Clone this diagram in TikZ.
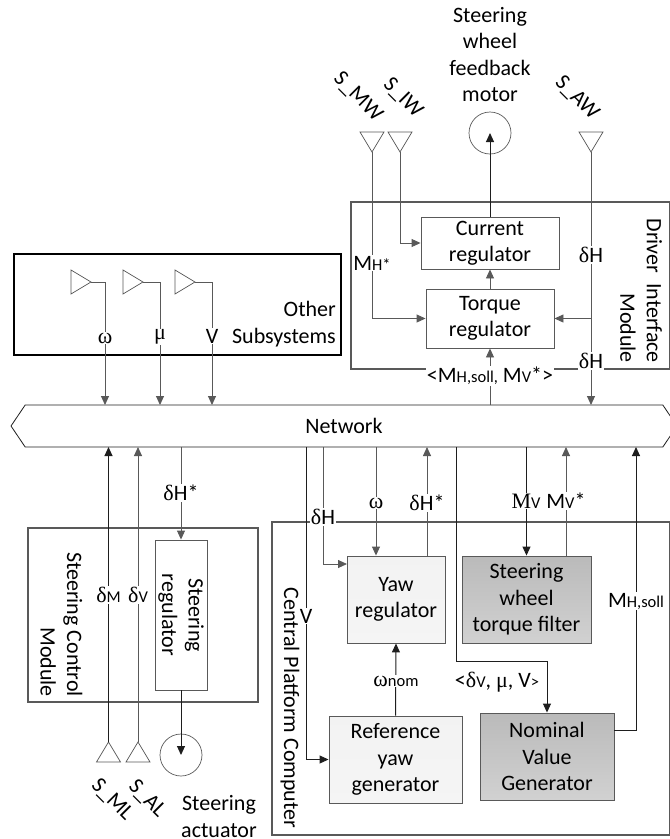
\documentclass[tikz,border=0pt]{standalone}
\usepackage{fontspec}
\setmainfont{Carlito}
\newfontfamily\grkfont{Liberation Serif}
\usetikzlibrary{arrows.meta, shapes.geometric, shapes.symbols}
\definecolor{lnblack}{RGB}{30, 30, 30}
\definecolor{lngray}{RGB}{89, 89, 89}
\newcommand{\gk}[1]{{\grkfont #1}}
\newcommand{\sm}[1]{{\fontsize{16.5}{16.5}\selectfont #1}}
\tikzset{
  sigline/.style={lngray, line width=0.9pt},
  blkline/.style={lnblack, line width=1pt},
  frameline/.style={lngray, line width=1.4pt},
  blockbox/.style={draw=lngray, line width=0.9pt, inner sep=0pt, align=center},
  lightbox/.style={blockbox, top color=black!5, bottom color=black!4},
  darkbox/.style={blockbox, top color=black!27, bottom color=black!18},
  lab/.style={fill=white, inner sep=1pt, align=center},
  plaintxt/.style={inner sep=0pt, align=center},
  sensortri/.style={isosceles triangle, isosceles triangle stretches, draw=lngray, line width=0.7pt,
    minimum height=20pt, minimum width=24pt, inner sep=0pt, outer sep=0pt, anchor=apex},
  motorcirc/.style={circle, draw=lngray, line width=0.7pt, minimum size=42pt, inner sep=0pt}
}
\begin{document}
\begin{tikzpicture}[x=1pt, y=-1pt, >={Stealth[length=9pt, width=8pt, inset=0pt]},
    font=\fontsize{22}{26.5}\selectfont]
  \useasboundingbox (0,0) rectangle (670,839);

  % --- module frames ---
  \draw[frameline] (351,202) rectangle (669.5,369);
  \draw[frameline] (272,522) rectangle (669.5,835);
  \draw[frameline] (28,528) rectangle (258,702);
  \draw[black, line width=1.8pt] (14,254) rectangle (341,355);

  % --- network bus ---
  \node[signal, signal to=west and east, signal pointer angle=112, draw=lnblack, line width=0.8pt,
    minimum width=666pt, minimum height=42pt, inner sep=0pt, outer sep=0pt] (net) at (344,426) {};
  \node[plaintxt] (nettxt) at (344,426) {Network};

  % --- driver interface module ---
  \node[blockbox, minimum width=138pt, minimum height=52pt] (cur) at (490,243) {Current\\regulator};
  \node[blockbox, minimum width=128pt, minimum height=59pt] (tor) at (490,318.5) {Torque\\regulator};
  \node[motorcirc] (mot) at (490,133) {};
  \node[plaintxt] (mottxt) at (490,54.5) {Steering\\wheel\\feedback\\motor};
  \node[sensortri, shape border rotate=-90] (smw) at (372,152) {};
  \node[sensortri, shape border rotate=-90] (siw) at (400,152) {};
  \node[sensortri, shape border rotate=-90] (saw) at (591,152) {};
  \node[plaintxt, rotate=-45] (smwtxt) at (358,97) {S\_MW};
  \node[plaintxt, rotate=-45] (siwtxt) at (403,98) {S\_IW};
  \node[plaintxt, rotate=-45] (sawtxt) at (577,98) {S\_AW};
  \node[plaintxt, rotate=-90, anchor=east, align=right] (dimtxt) at (641,363) {Driver  ~Interface\\Module};

  \draw[blkline, ->] (cur.north) -- (mot.center);
  \draw[sigline, ->] (tor.north) -- (cur.south);
  \draw[sigline, ->] (smw.apex) |- (tor.west);
  \draw[sigline, ->] (siw.apex) |- (cur.west);
  \draw[sigline, ->] (saw.apex) -- (saw.apex |- net.north);
  \draw[sigline, ->] (saw.apex |- tor.east) -- (tor.east);
  \draw[sigline, ->] (net.north -| tor.south) -- (tor.south);
  \node[lab] (lmh) at (372,263) {M\sm{H*}};
  \node[lab] (ldh1) at (591,255) {\gk{δ}H};
  \node[lab] (ldh2) at (591,361) {\gk{δ}H};
  \node[lab] (lsoll) at (490,376) {<M\sm{H,soll,} M\sm{V}*>};

  % --- other subsystems ---
  \node[sensortri] (tom) at (91,282) {};
  \node[sensortri] (tmu) at (143,282) {};
  \node[sensortri] (tvv) at (195,282) {};
  \coordinate (omx1) at (105,338);
  \coordinate (mux1) at (160,337);
  \coordinate (vvx1) at (212,336);
  \node[plaintxt, anchor=east, align=right] (othtxt) at (336,324) {Other\\Subsystems};
  \draw[sigline, ->] (tom.apex) -| (omx1 |- net.north);
  \draw[sigline, ->] (tmu.apex) -| (mux1 |- net.north);
  \draw[sigline, ->] (tvv.apex) -| (vvx1 |- net.north);
  \node[lab] (lom1) at (omx1) {\gk{ω}};
  \node[lab] (lmu1) at (mux1) {\gk{μ}};
  \node[lab] (lvv1) at (vvx1) {V};

  % --- steering control module ---
  \node[blockbox, rotate=-90, minimum width=150pt, minimum height=52pt] (srg) at (181,615) {Steering\\regulator};
  \node[motorcirc] (act) at (181,755) {};
  \node[plaintxt] (acttxt) at (219,816.5) {Steering\\actuator};
  \node[sensortri, shape border rotate=90] (sml) at (108.5,742) {};
  \node[sensortri, shape border rotate=90] (sal) at (138,742) {};
  \node[plaintxt, rotate=-45] (smltxt) at (112,800) {S\_ML};
  \node[plaintxt, rotate=-45] (saltxt) at (147,799) {S\_AL};
  \node[plaintxt, rotate=-90, anchor=east, align=right] (scmtxt) at (61.5,697) {Steering Control\\Module};

  \draw[sigline, ->] (net.south -| srg.west) -- (srg.west);
  \draw[blkline, ->] (srg.east) -- (act.center);
  \draw[blkline, ->] (sml.apex) -- (sml.apex |- net.south);
  \draw[sigline, ->] (sal.apex) -- (sal.apex |- net.south);
  \node[lab] (ldhs1) at (181,493) {\gk{δ}H*};
  \node[lab] (ldm) at (108.5,595) {\gk{δ}\sm{M}};
  \node[lab] (ldv) at (138,595) {\gk{δ}\sm{V}};

  % --- central platform computer ---
  \node[lightbox, minimum width=98pt, minimum height=87pt] (yaw) at (396,599.5) {Yaw\\regulator};
  \node[lightbox, minimum width=133pt, minimum height=87pt] (ref) at (395.5,759.5) {Reference\\yaw\\generator};
  \node[darkbox, minimum width=129pt, minimum height=87pt] (swt) at (526.5,599.5) {Steering\\wheel\\torque filter};
  \node[darkbox, minimum width=134pt, minimum height=87pt] (nom) at (547,756.5) {Nominal\\Value\\Generator};
  \node[plaintxt, rotate=-90] (cpctxt) at (290,708) {Central Platform Computer};
  \coordinate (yawin) at (347,564);
  \coordinate (nomout) at (614,730);
  \coordinate (dvbend) at (456,661);
  \coordinate (vvx) at (306,616);
  \coordinate (dhx) at (323,517);
  \coordinate (omx) at (376,503);
  \coordinate (dsx) at (427,503);
  \coordinate (mvx) at (566,501);
  \coordinate (msx) at (636,601);

  \draw[blkline, ->] (net.south -| vvx) |- (ref.west);
  \draw[sigline, ->] (net.south -| dhx) |- (yawin);
  \draw[sigline, ->] (net.south -| omx) -- (omx |- yaw.north);
  \draw[sigline, ->] (yaw.north -| dsx) -- (dsx |- net.south);
  \draw[blkline, ->] (net.south -| swt.north) -- (swt.north);
  \draw[sigline, ->] (swt.north -| mvx) -- (mvx |- net.south);
  \draw[blkline, ->] (nomout) -| (msx |- net.south);
  \draw[blkline, ->] (net.south -| dvbend) -- (dvbend) -| (nom.north);
  \draw[blkline, ->] (ref.north) -- (yaw.south);
  \node[lab] (lvv2) at (vvx) {V};
  \node[lab] (ldh3) at (dhx) {\gk{δ}H};
  \node[lab] (lom2) at (omx) {\gk{ω}};
  \node[lab] (ldhs2) at (dsx) {\gk{δ}H*};
  \node[lab] (lmv) at (526,501) {\gk{M}\sm{V}};
  \node[lab] (lmvs) at (mvx) {M\sm{V}*};
  \node[lab] (lsoll2) at (msx) {M\sm{H,soll}};
  \node[lab] (lonom) at (396,681) {\gk{ω}\sm{nom}};
  \node[plaintxt] (ldvv) at (497,682) {<\gk{δ}\sm{V}, \gk{μ}, V\sm{>}};

\end{tikzpicture}
\end{document}
